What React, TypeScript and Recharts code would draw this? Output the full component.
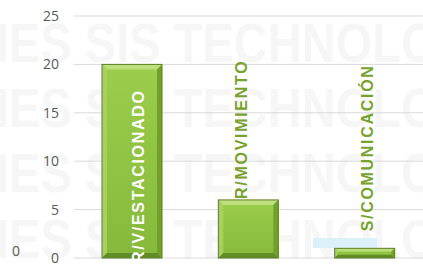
import { BarChart, Bar, XAxis, YAxis, CartesianGrid } from "recharts";

const categories = ["R/V/ESTACIONADO", "R/MOVIMIENTO", "S/COMUNICACIÓN"];
const values = [20, 6, 1];
const yTicks = [0, 5, 10, 15, 20, 25];
const watermark = "IES SIS TECHNOLOGIES";

const data = categories.map((name, i) => ({ name, value: values[i] }));

// small per-bar nudges so the rotated labels sit where the original put them
const labelNudge = [
  { dx: 6, dy: 5 },
  { dx: -7, dy: -1 },
  { dx: 3, dy: -17 },
];

const FONT = "'Liberation Sans', Arial, sans-serif";
const TICK_FONT = "'Open Sans', sans-serif";

function BevelBar(props: any) {
  const { x, y, width, height, index, payload } = props;
  if (width == null || height == null) return null;
  const b = Math.min(5, height / 3, width / 3);
  const r = x + width;
  const bt = y + height;
  const inside = height > 150;
  const nudge = labelNudge[index] ?? { dx: 0, dy: 0 };
  const cap = 11.5;
  const lx = x + width / 2 + nudge.dx + cap / 2;
  const ly = inside ? bt + nudge.dy : y + nudge.dy;
  return (
    <g>
      <rect x={x} y={y} width={width} height={height} fill="url(#barFill)" />
      <polygon points={`${x},${y} ${r},${y} ${r - b},${y + b} ${x + b},${y + b}`} fill="#bddf7e" />
      <polygon points={`${x},${y} ${x + b},${y + b} ${x + b},${bt - b} ${x},${bt}`} fill="#a6d25c" />
      <polygon points={`${r},${y} ${r},${bt} ${r - b},${bt - b} ${r - b},${y + b}`} fill="#739f2d" />
      <polygon points={`${x},${bt} ${x + b},${bt - b} ${r - b},${bt - b} ${r},${bt}`} fill="#628c25" />
      <rect x={x} y={y} width={width} height={height} fill="none" stroke="#5f7f26" strokeWidth={1} />
      <text
        x={lx}
        y={ly}
        transform={`rotate(-90, ${lx}, ${ly})`}
        textAnchor="start"
        fontFamily={FONT}
        fontWeight="bold"
        fontSize={16}
        letterSpacing={1.7}
        fill={inside ? "#ffffff" : "#77a22f"}
      >
        {payload?.name}
      </text>
    </g>
  );
}

export default function App() {
  return (
    <div style={{ position: "absolute", left: 0, top: 0, width: 423, height: 266, background: "#fff", overflow: "hidden" }}>
      <svg width={423} height={266} style={{ position: "absolute", left: 0, top: 0 }}>
        {[62, 127, 192, 258].map((by) => (
          <text
            key={by}
            x={0}
            y={by}
            transform={`translate(-4 0) scale(0.84 1)`}
            fontFamily={FONT}
            fontWeight="bold"
            fontSize={56}
            fill="#f6f6f6"
          >
            {watermark}
          </text>
        ))}
      </svg>
      <div
        style={{
          position: "absolute",
          left: 313,
          top: 238,
          width: 64,
          height: 10,
          background: "#dcf0fa",
        }}
      />
      <div
        style={{
          position: "absolute",
          left: 12,
          top: 241,
          fontFamily: TICK_FONT,
          fontSize: 14,
          color: "#595959",
        }}
      >
        0
      </div>
      <div style={{ position: "absolute", left: 0, top: 0 }}>
        <BarChart width={423} height={266} data={data} margin={{ top: 16, right: 0, left: 0, bottom: 8 }}>
          <CartesianGrid vertical={false} stroke="#d9d9d9" />
          <XAxis dataKey="name" hide />
          <YAxis
            width={74}
            domain={[0, 25]}
            ticks={yTicks}
            axisLine={false}
            tickLine={false}
            tickSize={0}
            tickMargin={15}
            tick={{ fontSize: 14, fill: "#595959", fontFamily: TICK_FONT }}
          />
          <Bar dataKey="value" barSize={60} shape={BevelBar} isAnimationActive={false} />
          <defs>
            <linearGradient id="barFill" x1="0" y1="0" x2="0" y2="1">
              <stop offset="0%" stopColor="#9ccd4c" />
              <stop offset="100%" stopColor="#86b93b" />
            </linearGradient>
          </defs>
        </BarChart>
      </div>
    </div>
  );
}
